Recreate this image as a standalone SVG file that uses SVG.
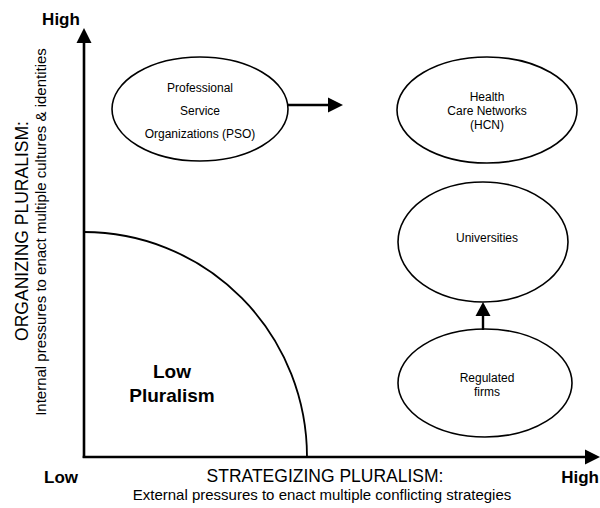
<svg xmlns="http://www.w3.org/2000/svg" width="600" height="508" viewBox="0 0 600 508">
  <style>
    text { font-family: "Liberation Sans", Arial, sans-serif; fill: #000; }
    .node ellipse { fill: #fff; stroke: #000; stroke-width: 1.6; }
    .node text { font-size: 12px; text-anchor: middle; }
    .axis { stroke: #000; stroke-width: 2.6; fill: none; }
    .edge { stroke: #000; stroke-width: 2.4; fill: none; }
    .head { fill: #000; stroke: none; }
    .end { font-size: 17px; font-weight: bold; }
    .title { font-size: 17.5px; text-anchor: middle; }
    .sub { font-size: 15px; text-anchor: middle; }
  </style>

  <rect width="600" height="508" fill="#fff"/>

  <!-- axes -->
  <g id="axes">
    <line class="axis" x1="84" y1="458" x2="84" y2="40"/>
    <polygon class="head" points="84,28 76.5,43 91.5,43"/>
    <line class="axis" x1="82.7" y1="457" x2="588" y2="457"/>
    <polygon class="head" points="600,457 585,449.5 585,464.5"/>
  </g>

  <!-- low pluralism zone -->
  <g id="low-pluralism">
    <path d="M84,232 A223,225 0 0 1 307,457" fill="none" stroke="#000" stroke-width="1.8"/>
    <text x="172" y="378" font-size="19" font-weight="bold" text-anchor="middle">Low</text>
    <text x="172" y="402" font-size="19" font-weight="bold" text-anchor="middle">Pluralism</text>
  </g>

  <!-- axis labels -->
  <g id="axis-labels">
    <text class="end" x="61" y="25" text-anchor="middle">High</text>
    <text class="end" x="61" y="483" text-anchor="middle">Low</text>
    <text class="end" x="599" y="483" text-anchor="end">High</text>
    <text class="title" x="325" y="482">STRATEGIZING PLURALISM:</text>
    <text class="sub" x="322" y="500">External pressures to enact multiple conflicting strategies</text>
    <text class="title" transform="translate(28,231) rotate(-90)">ORGANIZING PLURALISM:</text>
    <text class="sub" transform="translate(46,232) rotate(-90)">Internal pressures to enact multiple cultures &amp; identities</text>
  </g>

  <!-- nodes -->
  <g id="pso" class="node">
    <ellipse cx="200" cy="109" rx="88" ry="52"/>
    <text x="200" y="92">Professional</text>
    <text x="200" y="115">Service</text>
    <text x="200" y="138">Organizations (PSO)</text>
  </g>
  <g id="hcn" class="node">
    <ellipse cx="487" cy="110" rx="90" ry="53"/>
    <text x="487" y="101">Health</text>
    <text x="487" y="115">Care Networks</text>
    <text x="487" y="129">(HCN)</text>
  </g>
  <g id="universities" class="node">
    <ellipse cx="483" cy="242" rx="85" ry="60"/>
    <text x="487" y="242">Universities</text>
  </g>
  <g id="regulated" class="node">
    <ellipse cx="485" cy="383" rx="87" ry="54"/>
    <text x="487" y="382">Regulated</text>
    <text x="487" y="396">firms</text>
  </g>

  <!-- connectors -->
  <g id="connectors">
    <line class="edge" x1="288" y1="105" x2="329" y2="105"/>
    <polygon class="head" points="343,105 328,97.5 328,112.5"/>
    <line class="edge" x1="483" y1="330" x2="483" y2="315"/>
    <polygon class="head" points="483,302 475.5,316 490.5,316"/>
  </g>
</svg>
